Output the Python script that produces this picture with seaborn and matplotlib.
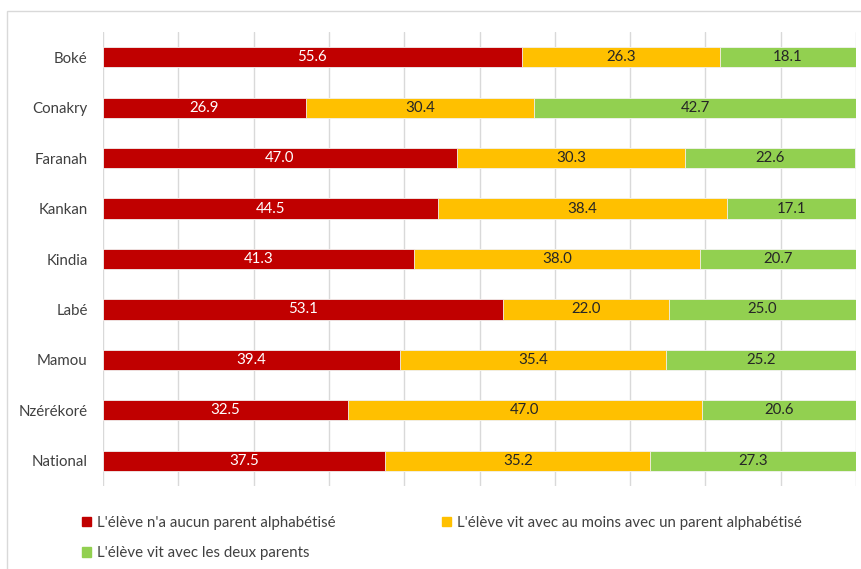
import matplotlib
matplotlib.use("Agg")
import matplotlib.pyplot as plt
import matplotlib.patches as mpatches
import numpy as np
import pandas as pd
import seaborn as sns

regions = ["Boké", "Conakry", "Faranah", "Kankan", "Kindia", "Labé", "Mamou", "Nzérékoré", "National"]
aucun_parent = [55.6, 26.9, 47.0, 44.5, 41.3, 53.1, 39.4, 32.5, 37.5]
un_parent = [26.3, 30.4, 30.3, 38.4, 38.0, 22.0, 35.4, 47.0, 35.2]
deux_parents = [18.1, 42.7, 22.6, 17.1, 20.7, 25.0, 25.2, 20.6, 27.3]

series_names = [
    "L'élève n'a aucun parent alphabétisé",
    "L'élève vit avec au moins avec un parent alphabétisé",
    "L'élève vit avec les deux parents",
]
colors = ["#C00000", "#FFC000", "#92D050"]
label_colors = ["white", "#262626", "#262626"]

sns.set_theme(style="white")
plt.rcParams["font.family"] = ["Lato", "DejaVu Sans"]

df = pd.DataFrame({
    "region": regions,
    "a": aucun_parent,
    "b": un_parent,
    "c": deux_parents,
})
df["cum_a"] = df["a"]
df["cum_b"] = df["a"] + df["b"]
df["cum_c"] = df["a"] + df["b"] + df["c"]

fig = plt.figure(figsize=(8.61, 5.69), dpi=100)
ax = fig.add_axes([103 / 861, 1 - 486 / 569, (856 - 103) / 861, (486 - 32) / 569])

# Stacked bars drawn as layers: full cumulative total first, then shorter ones on top
for col, color in zip(["cum_c", "cum_b", "cum_a"], colors[::-1]):
    sns.barplot(data=df, x=col, y="region", order=regions, color=color,
                width=0.4, edgecolor="#F2F2F2", linewidth=0.6, saturation=1,
                ax=ax, zorder=3)

# Value labels centred in each segment
for i in range(len(regions)):
    left = 0.0
    for vals, lc in zip([aucun_parent, un_parent, deux_parents], label_colors):
        v = vals[i]
        ax.text(left + v / 2, i, f"{v:.1f}", ha="center", va="center",
                color=lc, fontsize=10.8, zorder=5)
        left += v

ax.set_xlim(0, 100)
ax.set_ylim(len(regions) - 0.5, -0.5)
ax.set_xticks(np.arange(0, 101, 10))
ax.set_xticklabels([])
ax.xaxis.grid(True, color="#D9D9D9", linewidth=1)
ax.set_axisbelow(True)
ax.tick_params(axis="x", length=0)
ax.tick_params(axis="y", length=0, pad=11, labelsize=10.8, labelcolor="#404040")
ax.set_xlabel("")
ax.set_ylabel("")
for s in ax.spines.values():
    s.set_visible(False)

# Chart border
fig.patches.append(mpatches.Rectangle((7 / 861, -0.01), 1.0, 1 - 11 / 569 + 0.01,
                                      transform=fig.transFigure, fill=False,
                                      edgecolor="#D9D9D9", linewidth=1))

handles = [mpatches.Patch(color=c) for c in colors]
order = [0, 2, 1]
fig.legend([handles[k] for k in order], [series_names[k] for k in order],
           loc="upper left", bbox_to_anchor=(76 / 861, 1 - 510 / 569), ncol=2,
           frameon=False, fontsize=10.8, labelcolor="#404040",
           handlelength=0.6, handleheight=0.6, handletextpad=0.4,
           columnspacing=7.1, labelspacing=1.1, borderaxespad=0)

fig.savefig("out.png", dpi=100)
